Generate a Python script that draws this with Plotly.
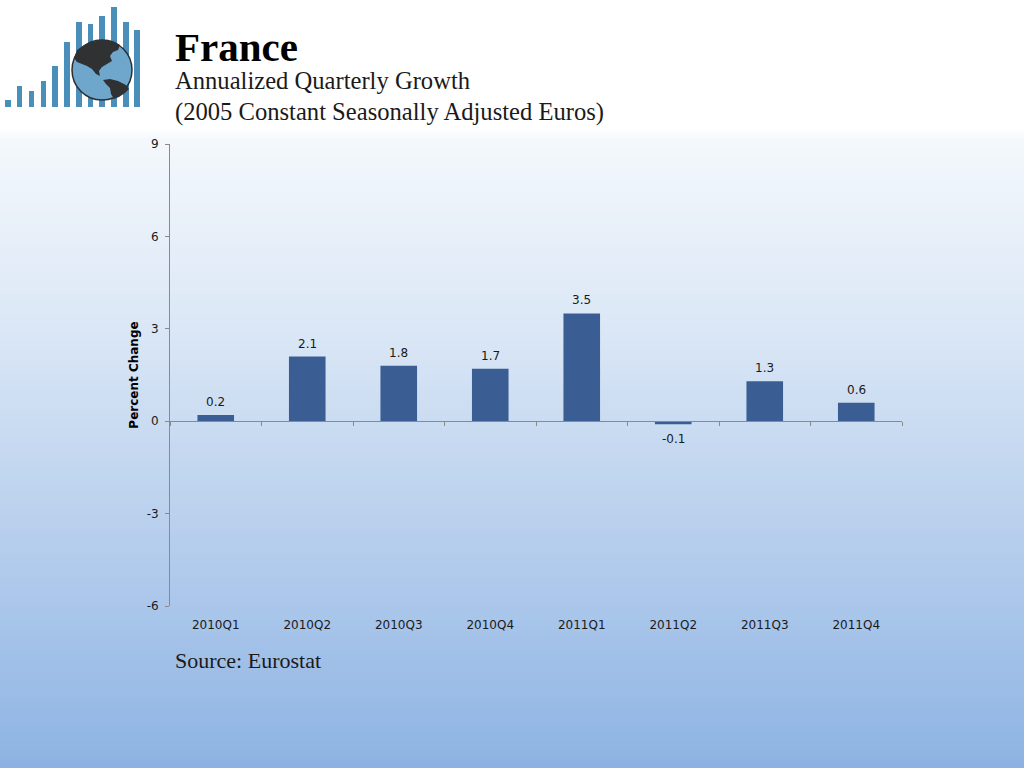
import plotly.graph_objects as go

# ---- data ----
categories = ["2010Q1", "2010Q2", "2010Q3", "2010Q4", "2011Q1", "2011Q2", "2011Q3", "2011Q4"]
growth = [0.2, 2.1, 1.8, 1.7, 3.5, -0.1, 1.3, 0.6]
y_ticks = [-6, -3, 0, 3, 6, 9]
y_range = [-6, 9]

title_text = "France"
subtitle_1 = "Annualized Quarterly Growth"
subtitle_2 = "(2005 Constant Seasonally Adjusted Euros)"
source_text = "Source: Eurostat"
y_title = "Percent Change"

# ---- layout geometry (pixels) ----
W, H = 1024, 768
L, R, T, B = 170, 122, 144, 162
PW, PH = W - L - R, H - T - B


def px(x):
    return (x - L) / PW


def py(y):
    return (H - B - y) / PH


shapes = []

# background: white header then vertical gradient
def lerp(c1, c2, t):
    return tuple(round(a + (b - a) * t) for a, b in zip(c1, c2))

def hex2rgb(h):
    h = h.lstrip("#")
    return tuple(int(h[i:i + 2], 16) for i in (0, 2, 4))

stops = [(128, "#FFFFFF"), (140, "#F4F8FC"), (320, "#DCE8F6"), (500, "#BDD3EE"),
         (640, "#A4C2E9"), (745, "#91B6E3"), (768, "#8CB2E2")]
stops = [(s, hex2rgb(c)) for s, c in stops]
band = 3
y0 = 128
while y0 < H:
    ym = y0 + band / 2
    for (sa, ca), (sb, cb) in zip(stops[:-1], stops[1:]):
        if sa <= ym <= sb:
            col = lerp(ca, cb, (ym - sa) / (sb - sa))
            break
    else:
        col = stops[-1][1]
    shapes.append(dict(type="rect", xref="paper", yref="paper",
                       x0=px(0), x1=px(W), y0=py(y0 + band + 0.5), y1=py(y0),
                       fillcolor="rgb(%d,%d,%d)" % col, line=dict(width=0), layer="below"))
    y0 += band

# logo: bars
logo_bars = [(5, 11, 100), (17, 22, 86), (29, 34, 91), (41, 46, 81), (52, 58, 66), (64, 70, 42),
             (76, 82, 22), (88, 93, 24), (99, 105, 16), (111, 117, 7), (123, 129, 22), (134, 140, 30)]
for xa, xb, top in logo_bars:
    shapes.append(dict(type="rect", xref="paper", yref="paper",
                       x0=px(xa), x1=px(xb), y0=py(107), y1=py(top),
                       fillcolor="#4A8FB9", line=dict(width=0), layer="above"))

# logo: globe
cx, cy, r = 102, 70, 30
shapes.append(dict(type="circle", xref="paper", yref="paper",
                   x0=px(cx - r), x1=px(cx + r), y0=py(cy + r), y1=py(cy - r),
                   fillcolor="#6FA6CC", line=dict(color="#2E2E2E", width=1.5), layer="above"))


def path(pts):
    return "M " + " L ".join("%f,%f" % (px(a), py(b)) for a, b in pts) + " Z"

north_america = [(74, 58), (77, 50), (84, 45), (92, 42), (102, 40), (112, 41), (120, 45), (118, 50),
                 (113, 52), (110, 56), (112, 61), (107, 64), (102, 67), (99, 71), (100, 76),
                 (96, 74), (92, 69), (87, 66), (82, 64), (77, 62)]
south_america = [(103, 80), (110, 79), (118, 81), (126, 85), (129, 89), (125, 93), (119, 97),
                 (114, 99), (111, 94), (110, 88), (106, 84)]
for poly in (north_america, south_america):
    shapes.append(dict(type="path", xref="paper", yref="paper", path=path(poly),
                       fillcolor="#2F3133", line=dict(width=0), layer="above"))

# ---- figure ----
fig = go.Figure()
fig.add_trace(go.Bar(
    x=categories, y=growth, width=0.4,
    marker=dict(color="#3A5E93", line=dict(width=0)),
    showlegend=False,
))
# carrier for the bottom category labels axis
fig.add_trace(go.Scatter(
    x=categories, y=growth, xaxis="x2", mode="markers",
    marker=dict(opacity=0), hoverinfo="skip", showlegend=False,
))

# data labels from the series
label_annotations = [
    dict(x=c, y=v, xref="x", yref="y", text="%.1f" % v, showarrow=False,
         xanchor="center", yanchor="middle", yshift=(13 if v >= 0 else -15),
         font=dict(family="DejaVu Sans", size=12, color="#1A1A1A"))
    for c, v in zip(categories, growth)
]

axis_col = "#8A8A8A"
fig.update_layout(
    width=W, height=H, autosize=False,
    margin=dict(l=L, r=R, t=T, b=B, pad=0),
    paper_bgcolor="white", plot_bgcolor="rgba(0,0,0,0)",
    shapes=shapes,
    xaxis=dict(
        type="category", range=[-0.5, len(categories) - 0.5],
        anchor="free", position=py(421),
        showline=True, linecolor=axis_col, linewidth=1,
        ticks="outside", tickson="boundaries", ticklen=4, tickcolor=axis_col,
        showticklabels=False, showgrid=False, zeroline=False, fixedrange=True,
    ),
    xaxis2=dict(
        type="category", overlaying="x", anchor="y", side="bottom",
        range=[-0.5, len(categories) - 0.5],
        showline=False, ticks="", showgrid=False, zeroline=False,
        tickfont=dict(family="DejaVu Sans", size=12, color="#1A1A1A"),
        ticklabelstandoff=10,
    ),
    yaxis=dict(
        range=y_range, tickvals=y_ticks, ticktext=[str(v) for v in y_ticks],
        showline=True, linecolor=axis_col, linewidth=1,
        ticks="outside", ticklen=4, tickcolor=axis_col,
        showgrid=False, zeroline=False,
        tickfont=dict(family="DejaVu Sans", size=12, color="#1A1A1A"),
        ticklabelstandoff=4,
        title=dict(text="<b>" + y_title + "</b>", standoff=5,
                   font=dict(family="DejaVu Sans", size=12, color="#000000")),
    ),
    annotations=label_annotations + [
        dict(text="<b>" + title_text + "</b>", xref="paper", yref="paper", x=px(173), y=py(47),
             xanchor="left", yanchor="middle", showarrow=False,
             font=dict(family="Liberation Serif", size=41, color="#000000")),
        dict(text=subtitle_1, xref="paper", yref="paper", x=px(173), y=py(81),
             xanchor="left", yanchor="middle", showarrow=False,
             font=dict(family="Liberation Serif", size=24.6, color="#1A1A1A")),
        dict(text=subtitle_2, xref="paper", yref="paper", x=px(173), y=py(112),
             xanchor="left", yanchor="middle", showarrow=False,
             font=dict(family="Liberation Serif", size=24.6, color="#1A1A1A")),
        dict(text=source_text, xref="paper", yref="paper", x=px(173), y=py(660),
             xanchor="left", yanchor="middle", showarrow=False,
             font=dict(family="Liberation Serif", size=22, color="#1A1A1A")),
    ],
)

fig.write_html("out.html", config={"displayModeBar": False},
               post_script="document.body.style.margin='0';document.body.style.overflow='hidden';")
